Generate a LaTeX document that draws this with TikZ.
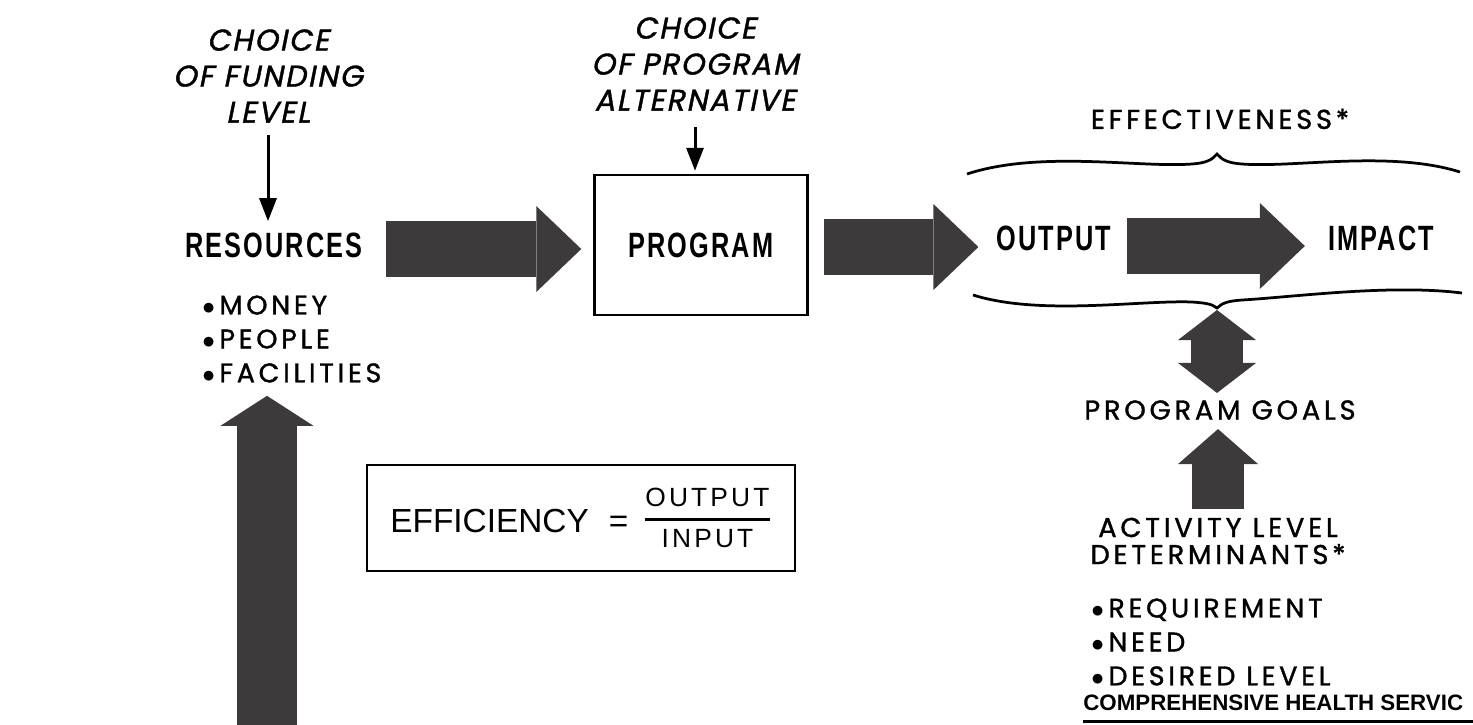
\documentclass[tikz,border=0pt]{standalone}
\usepackage{amsmath}
\usepackage{fontspec}
\usepackage{tikz}
\usetikzlibrary{arrows.meta}
\newfontfamily\headfont[FakeStretch=0.72,LetterSpace=6]{Liberation Sans}
\newfontfamily\letterfont[LetterSpace=14,FakeBold=1.3]{Poppins}
\newfontfamily\letterslant[LetterSpace=6,FakeSlant=0.2,FakeBold=1.3]{Poppins}
\newfontfamily\plainfont{Liberation Sans}
\newfontfamily\spacedfont[LetterSpace=12]{Liberation Sans}
\definecolor{blockgray}{RGB}{60,58,58}

\begin{document}
\begin{tikzpicture}[x=0.02cm, y=-0.02cm, inner sep=0pt,
	head/.style={font=\headfont\bfseries\fontsize{20}{24}\selectfont},
	tag/.style={font=\letterfont\fontsize{15.5}{15.4}\selectfont, align=center},
	choice/.style={font=\letterslant\fontsize{17}{20.5}\selectfont, align=center},
	items/.style={font=\letterfont\fontsize{15.3}{19.3}\selectfont, align=left, anchor=west},
	thinarrow/.style={line width=0.06cm, -{Triangle[length=0.46cm, width=0.34cm]}},
	fat/.style={draw=blockgray, line width=1.12cm, -{Triangle[length=0.9cm, width=1.72cm, line width=0pt]}},
	uparrow/.style={draw=blockgray, line width=1.2cm, -{Triangle[length=0.6cm, width=1.86cm, line width=0pt]}},
	brace/.style={line width=0.055cm}]
	\useasboundingbox (0,0) rectangle (1473,724);

	\node[choice] (fundchoice) at (268,76) {CHOICE\\OF FUNDING\\LEVEL};
	\node[choice] (progchoice) at (695,64) {CHOICE\\OF PROGRAM\\ALTERNATIVE};
	\node[head] (resources) at (274,245) {RESOURCES};
	\node[items] (resitems) at (202,339) {$\bullet$\,MONEY\\$\bullet$\,PEOPLE\\$\bullet$\,FACILITIES};
	\node[head, draw, line width=0.05cm, minimum width=4.26cm, minimum height=2.8cm] (program) at (701,245) {PROGRAM};
	\node[tag] (effect) at (1220,119) {EFFECTIVENESS*};
	\node[head] (output) at (1054,238) {OUTPUT};
	\node[head] (impact) at (1381,238) {IMPACT};
	\coordinate (cusp) at (1217,308);
	\node[tag] (goals) at (1220,410) {PROGRAM GOALS};
	\node[tag] (activity) at (1218,541) {ACTIVITY LEVEL\\DETERMINANTS*};
	\node[items] (detitems) at (1091,642) {$\bullet$\,REQUIREMENT\\$\bullet$\,NEED\\$\bullet$\,DESIRED LEVEL};
	\node[anchor=west, font=\plainfont\bfseries\fontsize{12.7}{15}\selectfont] (health) at (1083,703) {COMPREHENSIVE HEALTH SERVIC};
	\node[draw, line width=0.05cm, minimum width=8.56cm, minimum height=2.12cm, font=\plainfont\fontsize{19}{22}\selectfont] (efficiency) at (581,518)
		{EFFICIENCY\hspace{0.4cm}=\hspace{0.3cm}\raisebox{0.12cm}{$\genfrac{}{}{1.6pt}{0}{\mbox{\spacedfont\fontsize{15}{18}\selectfont OUTPUT}}{\mbox{\spacedfont\fontsize{15}{18}\selectfont INPUT}}$}};
	\coordinate (inflow) at (267,740);

	\draw[thinarrow, shorten <=0.24cm, shorten >=0.22cm] (fundchoice.south) -- (fundchoice.south |- resources.north);
	\draw[thinarrow, shorten <=0.32cm, shorten >=0.06cm] (progchoice.south) -- (progchoice.south |- program.north);
	\draw[fat, shorten <=0.46cm, shorten >=0.24cm] ([yshift=-0.08cm]resources.east) -- ([yshift=-0.08cm]resources.east -| program.west);
	\draw[fat, shorten <=0.3cm, shorten >=0.36cm] ([yshift=-0.04cm]program.east) -- ([yshift=-0.04cm]program.east -| output.west);
	\draw[fat, shorten <=0.3cm, shorten >=0.46cm] ([yshift=-0.16cm]output.east) -- ([yshift=-0.16cm]impact.west);
	\draw[uparrow, shorten >=0.26cm] (inflow) -- (inflow |- resitems.south);
	\draw[fat, line width=1.04cm, {Triangle[length=0.6cm, width=1.56cm, line width=0pt]}-{Triangle[length=0.6cm, width=1.56cm, line width=0pt]}, shorten <=0.04cm, shorten >=0.14cm] (cusp) -- (cusp |- goals.north);
	\draw[uparrow, line width=1.04cm, -{Triangle[length=0.7cm, width=1.6cm, line width=0pt]}, shorten <=0.16cm, shorten >=0.18cm] (activity.north) -- (activity.north |- goals.south);

	\draw[brace] (967,174) .. controls (1040,150) and (1140,168) .. (1192,164) .. controls (1206,163) and (1212,160) .. (1217,154) .. controls (1222,160) and (1228,163) .. (1242,164) .. controls (1294,168) and (1390,150) .. (1460,172);
	\draw[brace] (973,295) .. controls (1040,316) and (1140,300) .. (1192,302) .. controls (1206,303) and (1212,304) .. (cusp) .. controls (1222,303) and (1228,301) .. (1242,300) .. controls (1294,297) and (1390,284) .. (1462,293);
	\draw[line width=0.06cm] (1083,721) -- (1473,721);
\end{tikzpicture}
\end{document}
